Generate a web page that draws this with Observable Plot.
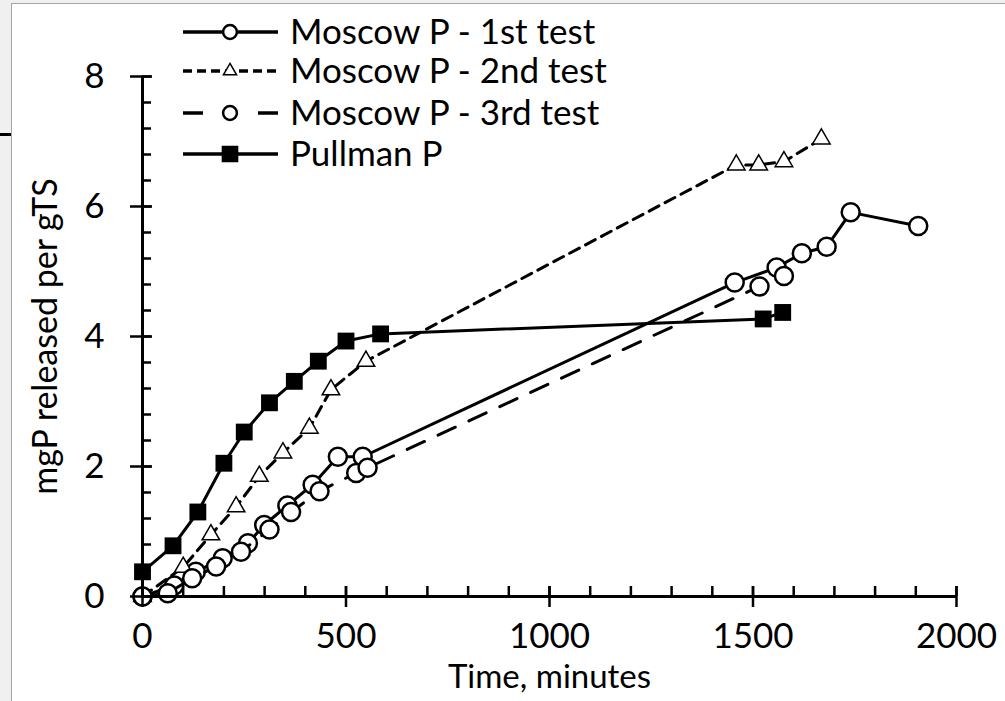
<!DOCTYPE html>
<html><head><meta charset="utf-8">
<script src="https://cdn.jsdelivr.net/npm/d3@7"></script>
<script src="https://cdn.jsdelivr.net/npm/@observablehq/plot@0.6"></script>
<style>
html,body{margin:0;padding:0;background:#f0f0f0;width:1005px;height:701px;overflow:hidden;}
#panel{position:absolute;left:11px;top:3px;width:994px;height:698px;background:#fff;border-left:1px solid #a6a6a6;border-top:1px solid #a6a6a6;}
#stub{position:absolute;left:0;top:133px;width:11px;height:3px;background:#000;}
#chart{position:absolute;left:0;top:0;}
#legend{position:absolute;left:0;top:0;}
</style></head><body>
<div id="panel"></div><div id="stub"></div><div id="chart"></div>
<svg id="legend" width="700" height="180"></svg>
<script>
// ---- data (time in minutes, mgP released per gTS) ----
const seriesNames = ["Moscow P - 1st test", "Moscow P - 2nd test", "Moscow P - 3rd test", "Pullman P"];
const moscow1 = [[0,0],[78,0.17],[131,0.38],[197,0.59],[259,0.82],[299,1.1],[356,1.4],[418,1.72],[480,2.15],[541,2.15],[1455,4.83],[1558,5.06],[1620,5.28],[1681,5.38],[1740,5.91],[1906,5.70]];
const moscow2 = [[0,0],[100,0.45],[168,0.95],[230,1.38],[287,1.85],[345,2.21],[410,2.59],[463,3.18],[549,3.62],[1459,6.64],[1514,6.64],[1576,6.69],[1668,7.04]];
const moscow3 = [[0,0],[62,0.05],[122,0.28],[181,0.46],[242,0.69],[312,1.03],[365,1.3],[435,1.62],[525,1.9],[553,1.98],[1516,4.77],[1576,4.93]];
const pullman = [[0,0.38],[75,0.78],[136,1.3],[200,2.05],[250,2.53],[312,2.98],[373,3.31],[432,3.62],[500,3.93],[585,4.04],[1525,4.27],[1573,4.37]];
const xMajor = [0, 500, 1000, 1500, 2000];
const xMinor = d3.range(0, 2001, 100);
const yMajor = [0, 2, 4, 6, 8];
const yMinor = d3.range(0, 8.001, 0.4);
const xTitle = "Time, minutes";
const yTitle = "mgP released per gTS";

// ---- styles ----
const FONT = "Lato, 'Open Sans', sans-serif";
const FS = 35;
const styles = [
  {dash: null, symbol: "circle", r: 9, fill: "white", sw: 2.5},
  {dash: "11,7", symbol: "triangle", r: 6.5, fill: "white", sw: 1.5},
  {dash: "19,15", symbol: "circle", r: 9, fill: "white", sw: 2.5},
  {dash: null, symbol: "square", r: 9.5, fill: "black", sw: 0}
];
const seriesData = [moscow1, moscow2, moscow3, pullman];

const W = 1005, H = 701, mL = 142, mR = 49, mT = 76, mB = 105;
const pw = W - mL - mR, ph = H - mT - mB;

const marks = [];
seriesData.forEach((data, i) => {
  const s = styles[i];
  const rows = data.map(([t, v]) => ({t, v, series: seriesNames[i]}));
  marks.push(Plot.line(rows, {x: "t", y: "v", stroke: "black", strokeWidth: 3, strokeDasharray: s.dash, strokeLinejoin: "round"}));
  marks.push(Plot.dot(rows, {x: "t", y: "v", symbol: s.symbol, r: s.r, fill: s.fill, stroke: "black", strokeWidth: s.sw}));
});

const chart = Plot.plot({
  width: W, height: H,
  marginLeft: mL, marginRight: mR, marginTop: mT, marginBottom: mB,
  style: {fontFamily: FONT, background: "transparent", overflow: "visible", color: "black"},
  x: {domain: [0, 2000]},
  y: {domain: [0, 8]},
  marks: [
    Plot.axisX(xMajor, {tickSize: 0, tickPadding: 27, fontSize: FS, label: null, fill: "black", tickFormat: d => String(d)}),
    Plot.axisY(yMajor, {tickSize: 0, tickPadding: 38, fontSize: FS, label: null, fill: "black", tickFormat: d => String(d)}),
    Plot.text([xTitle], {frameAnchor: "bottom", dy: 91, fontSize: 33, fill: "black"}),
    Plot.text([yTitle], {frameAnchor: "left", dx: -96, rotate: -90, textAnchor: "middle", fontSize: 34, fill: "black"}),
    ...marks,
    Plot.tickX(xMinor, {x: d => d, insetTop: ph - 10, strokeWidth: 2.5, stroke: "black"}),
    Plot.tickX(xMajor, {x: d => d, insetTop: ph - 10, insetBottom: -11, strokeWidth: 2.5, stroke: "black"}),
    Plot.tickY(yMinor, {y: d => d, insetRight: pw - 9, strokeWidth: 2.5, stroke: "black"}),
    Plot.tickY(yMajor, {y: d => d, insetLeft: -12, insetRight: pw - 10, strokeWidth: 2.5, stroke: "black"}),
    Plot.ruleY([0], {stroke: "black", strokeWidth: 3}),
    Plot.ruleX([0], {stroke: "black", strokeWidth: 3})
  ]
});
document.getElementById("chart").appendChild(chart);

// ---- legend ----
const lg = d3.select("#legend");
const rowsY = [32, 71, 113, 154];
const x0 = 183, x1 = 278, xc = 230, xt = 290;
seriesNames.forEach((name, i) => {
  const y = rowsY[i];
  const g = lg.append("g");
  if (i === 2) {
    g.append("line").attr("x1", x0).attr("x2", x0 + 20).attr("y1", y).attr("y2", y).attr("stroke", "black").attr("stroke-width", 3.5);
    g.append("line").attr("x1", x1 - 20).attr("x2", x1).attr("y1", y).attr("y2", y).attr("stroke", "black").attr("stroke-width", 3.5);
  } else {
    g.append("line").attr("x1", x0).attr("x2", x1).attr("y1", y).attr("y2", y).attr("stroke", "black").attr("stroke-width", 3.5)
      .attr("stroke-dasharray", i === 1 ? "9,5" : null);
  }
  const sym = {circle: d3.symbolCircle, triangle: d3.symbolTriangle, square: d3.symbolSquare}[styles[i].symbol];
  const size = i === 1 ? 75 : (i === 3 ? 200 : 150);
  g.append("path").attr("d", d3.symbol(sym, size)()).attr("transform", `translate(${xc},${y})`)
    .attr("fill", styles[i].fill).attr("stroke", "black").attr("stroke-width", i === 1 ? 1.5 : 2.5);
  g.append("text").attr("x", xt).attr("y", y).attr("dy", "0.35em").attr("font-family", FONT).attr("font-size", FS).attr("fill", "black").text(name);
});
</script>
</body></html>
